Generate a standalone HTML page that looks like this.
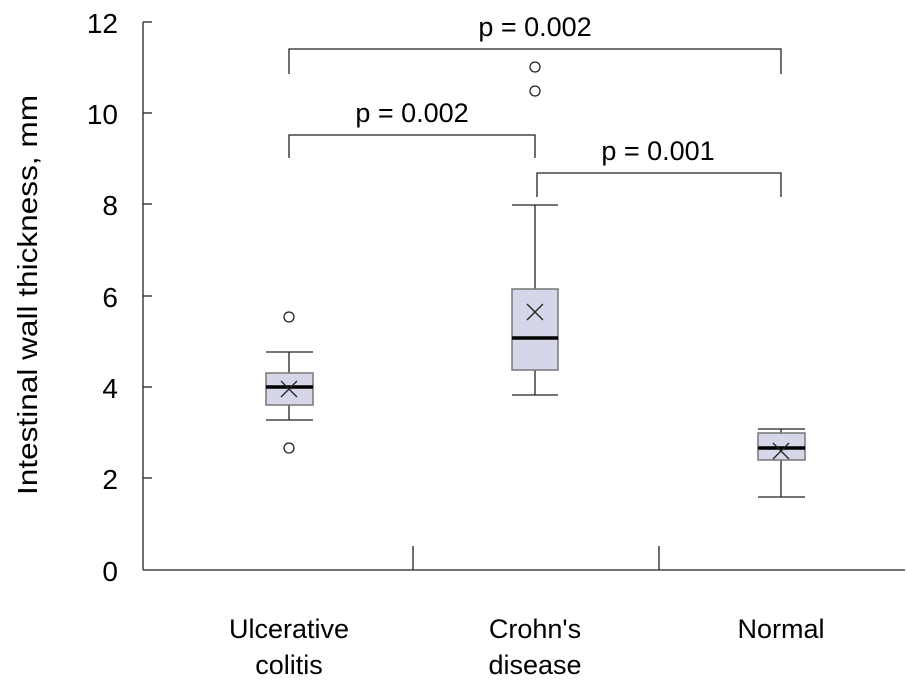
<!DOCTYPE html><html><head><style>body{margin:0;background:#fff}svg{display:block}text{font-family:"Liberation Sans",sans-serif;fill:#000}</style></head><body>
<svg width="907" height="694" viewBox="0 0 907 694" xmlns="http://www.w3.org/2000/svg">
<g stroke="#222" stroke-width="1.3" fill="none">
<line x1="143" y1="22" x2="143" y2="570"/><line x1="143" y1="570" x2="905" y2="570"/>
<line x1="143" y1="22" x2="152" y2="22"/><line x1="143" y1="113" x2="152" y2="113"/><line x1="143" y1="204" x2="152" y2="204"/><line x1="143" y1="296" x2="152" y2="296"/><line x1="143" y1="387" x2="152" y2="387"/><line x1="143" y1="478" x2="152" y2="478"/>
<line x1="413" y1="546" x2="413" y2="570"/><line x1="659" y1="546" x2="659" y2="570"/>
<path d="M289 74V49H781V74"/><path d="M289 158V135H535V158"/><path d="M537 197V173H781V197"/>
</g>
<g font-size="28" text-anchor="end"><text x="118" y="581">0</text><text x="118" y="489">2</text><text x="118" y="398">4</text><text x="118" y="307">6</text><text x="118" y="215">8</text><text x="118" y="124">10</text><text x="118" y="33">12</text></g>
<text transform="translate(37 295) rotate(-90)" font-size="28" text-anchor="middle" textLength="400" lengthAdjust="spacingAndGlyphs">Intestinal wall thickness, mm</text>
<g font-size="27" text-anchor="middle"><text x="535" y="36">p = 0.002</text><text x="412" y="122">p = 0.002</text><text x="658" y="160">p = 0.001</text>
<text x="289" y="638">Ulcerative</text><text x="289" y="674">colitis</text><text x="535" y="638">Crohn's</text><text x="535" y="674">disease</text><text x="781" y="638">Normal</text></g>
<g stroke="#222" stroke-width="1.3" fill="none">
<path d="M266 352H313M289 352V373M289 405V420M266 420H313"/>
<path d="M512 205H558M535 205V289M535 370V395M512 395H558"/>
<path d="M758 429H805M781 429V433M781 460V497M758 497H805"/>
</g>
<g fill="#d5d6e8" stroke="#777" stroke-width="1.5">
<rect x="266" y="373" width="47" height="32"/><rect x="512" y="289" width="46" height="81"/><rect x="758" y="433" width="47" height="27"/>
</g>
<g stroke="#000" stroke-width="3.5"><line x1="266" y1="387" x2="313" y2="387"/><line x1="512" y1="338" x2="558" y2="338"/><line x1="758" y1="448" x2="805" y2="448"/></g>
<g stroke="#222" stroke-width="1.3" fill="none">
<path d="M281 381l16 16M297 381l-16 16"/><path d="M527 304l16 16M543 304l-16 16"/><path d="M773 443l16 16M789 443l-16 16"/>
<circle cx="289" cy="317" r="5"/><circle cx="289" cy="448" r="5"/><circle cx="535" cy="67" r="5"/><circle cx="535" cy="91" r="5"/>
</g>
</svg></body></html>
